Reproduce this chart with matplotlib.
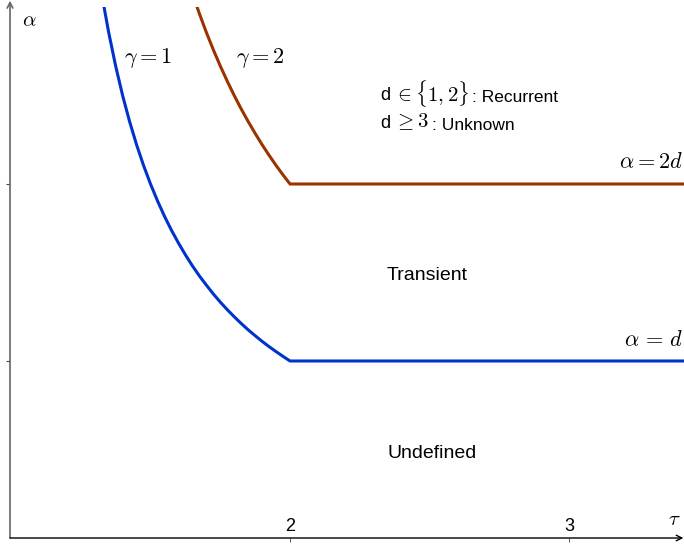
import matplotlib.pyplot as plt

plt.rcParams['mathtext.fontset'] = 'cm'
plt.rcParams['font.family'] = ['Liberation Sans', 'DejaVu Sans']

# gamma = 1 boundary (tau, alpha in units of d)
tau_g1 = [1.33, 1.35, 1.375, 1.40, 1.425, 1.45, 1.475, 1.50, 1.525, 1.55,
          1.575, 1.60, 1.625, 1.65, 1.675, 1.70, 1.725, 1.75, 1.775, 1.80,
          1.825, 1.85, 1.875, 1.90, 1.925, 1.95, 1.975, 2.00, 3.45]
alpha_g1 = [3.03, 2.857, 2.667, 2.50, 2.353, 2.222, 2.105, 2.00, 1.905, 1.818,
            1.739, 1.667, 1.60, 1.538, 1.481, 1.429, 1.379, 1.333, 1.290, 1.25,
            1.212, 1.176, 1.143, 1.111, 1.081, 1.053, 1.026, 1.00, 1.00]

# gamma = 2 boundary
tau_g2 = [1.65, 1.675, 1.70, 1.725, 1.75, 1.775, 1.80, 1.825, 1.85, 1.875,
          1.90, 1.925, 1.95, 1.975, 2.00, 3.45]
alpha_g2 = [3.077, 2.963, 2.857, 2.759, 2.667, 2.581, 2.50, 2.424, 2.353, 2.286,
            2.222, 2.162, 2.105, 2.051, 2.00, 2.00]

x_ticks = [2, 3]
y_ticks = [1, 2]

fig = plt.figure(figsize=(6.84, 5.44), dpi=100)
ax = fig.add_axes([10 / 684, 6 / 544, 674 / 684, 531 / 544])

ax.plot(tau_g1, alpha_g1, color='#0033cc', lw=2.2, solid_joinstyle='miter')
ax.plot(tau_g2, alpha_g2, color='#993300', lw=2.2, solid_joinstyle='miter')

ax.set_xlim(0.9964, 3.412)
ax.set_ylim(0, 3.0)

for s in ['top', 'right', 'left', 'bottom']:
    ax.spines[s].set_visible(False)

# axes with arrows
ax.annotate('', xy=(0, 1.012), xytext=(0, 0), xycoords='axes fraction',
            arrowprops=dict(arrowstyle='->', color='#666666', lw=1.2,
                            shrinkA=0, shrinkB=0), annotation_clip=False)
ax.annotate('', xy=(0.999, 0), xytext=(0, 0), xycoords='axes fraction',
            arrowprops=dict(arrowstyle='->', color='black', lw=1.0,
                            shrinkA=0, shrinkB=0), annotation_clip=False)

ax.set_xticks(x_ticks)
ax.set_xticklabels([str(t) for t in x_ticks])
ax.tick_params(axis='x', direction='out', length=3, width=0.8, color='#666666',
               labelsize=13, pad=-17.5)
ax.set_yticks(y_ticks)
ax.set_yticklabels([])
ax.tick_params(axis='y', direction='out', length=3, width=0.8, color='#444444')

ax.text(0.018, 0.975, r'$\alpha$', transform=ax.transAxes, fontsize=15,
        ha='left', va='center')
ax.text(0.985, 0.034, r'$\tau$', transform=ax.transAxes, fontsize=15,
        ha='center', va='center')

ax.text(1.491, 2.71, r'$\gamma = 1$', fontsize=16, ha='center', va='center')
ax.text(1.892, 2.71, r'$\gamma = 2$', fontsize=16, ha='center', va='center')

ax.text(3.41, 2.12, r'$\alpha = 2d$', fontsize=16, ha='right', va='center')
ax.text(3.41, 1.113, r'$\alpha\,=\,d$', fontsize=16, ha='right', va='center')

# region notes
ax.text(2.323, 2.50, 'd', fontsize=13, ha='left', va='center')
ax.text(2.372, 2.51, r'$\in\{1,2\}$', fontsize=15, ha='left', va='center')
ax.text(2.652, 2.49, ': Recurrent', fontsize=12.5, ha='left', va='center')
ax.text(2.323, 2.34, 'd', fontsize=13, ha='left', va='center')
ax.text(2.372, 2.35, r'$\geq 3$', fontsize=15, ha='left', va='center')
ax.text(2.509, 2.33, ': Unknown', fontsize=12.5, ha='left', va='center')

ax.text(2.49, 1.485, 'Transient', fontsize=14, ha='center', va='center')
ax.text(2.51, 0.48, 'Undefined', fontsize=14, ha='center', va='center')

fig.savefig('out.png', dpi=100)
